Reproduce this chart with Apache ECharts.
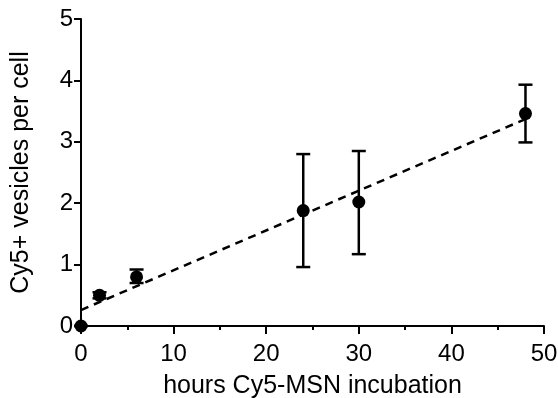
<!DOCTYPE html>
<html>
	<head>
		<meta charset="utf-8" />
		<script src="https://cdn.jsdelivr.net/npm/echarts@6/dist/echarts.min.js"></script>
		<style>
			html, body { margin: 0; padding: 0; background: #fff; }
			#chart { width: 558px; height: 398px; }
		</style>
	</head>
	<body>
		<div id="chart"></div>
		<script>
			// hours of incubation and mean vesicles per cell
			var hours = [0, 2, 6, 24, 30, 48];
			var vesicles = [0, 0.5, 0.8, 1.88, 2.02, 3.46];
			var errLow = [0, 0.45, 0.70, 0.96, 1.17, 2.99];
			var errHigh = [0, 0.55, 0.92, 2.80, 2.85, 3.93];
			// linear fit drawn as dashed line
			var fitX = [0, 48];
			var fitY = [0.26, 3.37];
			var xTicks = [0, 10, 20, 30, 40, 50];
			var yTicks = [0, 1, 2, 3, 4, 5];

			var font = "'Liberation Sans', Arial, sans-serif";

			var points = [];
			var bars = [];
			for(var i = 0; i < hours.length; i++) {
				points.push([hours[i], vesicles[i]]);
				bars.push([hours[i], errLow[i], errHigh[i]]);
			}
			var fit = [];
			for(var i = 0; i < fitX.length; i++) {
				fit.push([fitX[i], fitY[i]]);
			}

			var chart = echarts.init(document.getElementById('chart'));

			var option = {
				animation: false,
				grid: { left: 81, right: 14, top: 19, bottom: 72, outerBoundsMode: 'none', containLabel: false },
				xAxis: {
					type: 'value',
					min: xTicks[0],
					max: xTicks[xTicks.length - 1],
					interval: 10,
					name: 'hours Cy5-MSN incubation',
					nameLocation: 'middle',
					nameGap: 48,
					nameTextStyle: { fontFamily: font, fontSize: 25, color: '#000' },
					axisLine: { show: true, onZero: false, lineStyle: { color: '#000', width: 2 } },
					axisTick: { show: true, length: 8, lineStyle: { color: '#000', width: 2 } },
					minorTick: { show: true, splitNumber: 2, length: 4, lineStyle: { color: '#000', width: 2 } },
					axisLabel: { fontFamily: font, fontSize: 24, color: '#000', margin: 16 },
					splitLine: { show: false }
				},
				yAxis: {
					type: 'value',
					min: yTicks[0],
					max: yTicks[yTicks.length - 1],
					interval: 1,
					name: 'Cy5+ vesicles per cell',
					nameLocation: 'middle',
					nameGap: 47,
					nameTextStyle: { fontFamily: font, fontSize: 25, color: '#000' },
					axisLine: { show: true, onZero: false, lineStyle: { color: '#000', width: 2 } },
					axisTick: { show: true, length: 7, lineStyle: { color: '#000', width: 2 } },
					axisLabel: { fontFamily: font, fontSize: 24, color: '#000', margin: 8 },
					splitLine: { show: false }
				},
				series: [
					{
						type: 'line',
						data: fit,
						symbol: 'none',
						lineStyle: { color: '#000', width: 2.5, type: [8, 6] },
						z: 2
					},
					{
						type: 'custom',
						data: bars,
						clip: false,
						z: 3,
						renderItem: function(params, api) {
							var x = api.value(0);
							var top = api.coord([x, api.value(2)]);
							var bot = api.coord([x, api.value(1)]);
							var half = 7;
							var style = { stroke: '#000', lineWidth: 2.5 };
							return {
								type: 'group',
								children: [
									{ type: 'line', shape: { x1: top[0], y1: top[1], x2: bot[0], y2: bot[1] }, style: style },
									{ type: 'line', shape: { x1: top[0] - half, y1: top[1], x2: top[0] + half, y2: top[1] }, style: style },
									{ type: 'line', shape: { x1: bot[0] - half, y1: bot[1], x2: bot[0] + half, y2: bot[1] }, style: style }
								]
							};
						}
					},
					{
						type: 'scatter',
						data: points,
						symbol: 'circle',
						symbolSize: 13,
						clip: false,
						itemStyle: { color: '#000', opacity: 1 },
						z: 4
					}
				]
			};

			chart.setOption(option);
		</script>
	</body>
</html>
